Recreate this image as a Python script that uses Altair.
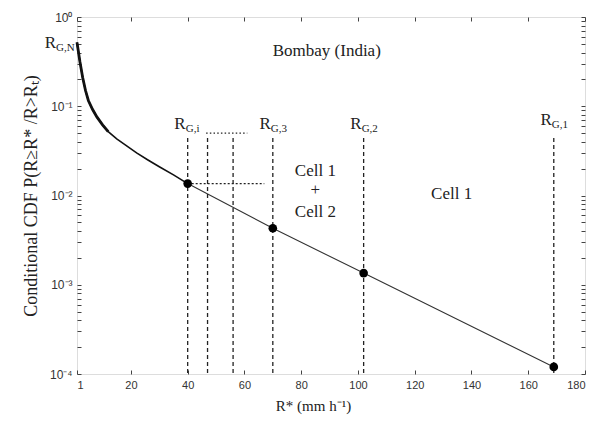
import altair as alt
import pandas as pd

# ---- data ----
curve_x = [1, 1.3, 2, 3, 4, 5, 6.5, 8, 10, 12, 15, 18, 22, 26, 30, 35, 40]
curve_y = [0.52, 0.45, 0.32, 0.21, 0.15, 0.116, 0.092, 0.076, 0.062, 0.052,
           0.043, 0.037, 0.030, 0.025, 0.021, 0.017, 0.0136]
tail_x = [40, 70, 102, 169]
tail_y = [0.0136, 0.0043, 0.00135, 0.00012]
dot_x = [40, 70, 102, 169]
dot_y = [0.0136, 0.0043, 0.00135, 0.00012]
vline_x = [40, 47, 56, 70, 102, 169]
vline_top = 0.044
ybottom = 1e-4
hdot_x = [40, 67]
hdot_y = 0.0136
gap_x = [46.5, 61]
gap_y = 0.050

lab_x = [40, 70, 102, 169]
lab_y = [0.055, 0.055, 0.055, 0.061]
lab_sub = ["G,i", "G,3", "G,2", "G,1"]
rn_x, rn_y, rn_sub = 1, 0.45, "G,N"

notes_text = ["Bombay (India)", "Cell 1", "+", "Cell 2", "Cell 1"]
notes_x = [89, 85, 85, 85, 133]
notes_y = [0.42, 0.0189, 0.0115, 0.0066, 0.0103]

x_ticks = [1, 20, 40, 60, 80, 100, 120, 140, 160, 180]
y_ticks = [1.0] + [k * 10.0 ** e for e in (-1, -2, -3, -4) for k in range(1, 10)]
y_ticks = sorted(set(round(v, 10) for v in y_ticks if v >= 1e-4))

SERIF = "Liberation Serif"
SANS = "Liberation Sans"

xs = alt.Scale(domain=[1, 180], nice=False, zero=False)
ys = alt.Scale(type="log", domain=[1e-4, 1], nice=False)

sup = {0: "10\u2070", -1: "10\u207b\u00b9", -2: "10\u207b\u00b2",
       -3: "10\u207b\u00b3", -4: "10\u207b\u2074"}
expr = "''"
for e, s in sup.items():
    expr = f"(abs(log(datum.value)/LN10-({e}))<0.001) ? '{s}' : " + expr
ylab_expr = expr

curve_df = pd.DataFrame({"x": curve_x, "y": curve_y})
tail_df = pd.DataFrame({"x": tail_x, "y": tail_y})
dot_df = pd.DataFrame({"x": dot_x, "y": dot_y})

# main line with left / bottom axes (inward ticks via negative offset)
axis_x_main = alt.Axis(values=x_ticks, offset=-4, tickSize=4, domain=False, grid=False,
                       labelFont=SANS, labelFontSize=11, labelColor="#333", labelPadding=5,
                       tickColor="#444", title="R* (mm h\u207b\u00b9)", titleFont=SERIF,
                       titleFontSize=15, titleFontWeight="normal", titleColor="#222",
                       titlePadding=8, titleX=236)
axis_y_main = alt.Axis(values=y_ticks, offset=-4, tickSize=4, domain=False, grid=False,
                       labelExpr=ylab_expr, labelFont=SANS, labelFontSize=12,
                       labelColor="#333", labelPadding=5, tickColor="#444",
                       title="Conditional CDF P(R\u2265R* /R>R\u209c)", titleFont=SERIF,
                       titleFontSize=18, titleFontWeight="normal", titleColor="#222",
                       titlePadding=9)
axis_x_top = alt.Axis(values=x_ticks, orient="top", offset=-4, tickSize=4, domain=False,
                      grid=False, labels=False, title=None, tickColor="#444")
axis_y_right = alt.Axis(values=y_ticks, orient="right", offset=-4, tickSize=4, domain=False,
                        grid=False, labels=False, title=None, tickColor="#444")

curve_thin = alt.Chart(curve_df).mark_line(color="#111", strokeWidth=1.6).encode(
    x=alt.X("x:Q", scale=xs, axis=axis_x_main),
    y=alt.Y("y:Q", scale=ys, axis=axis_y_main),
)
curve_thick = alt.Chart(curve_df).transform_filter("datum.x <= 12").mark_line(
    color="#111", strokeWidth=2.8).encode(
    x=alt.X("x:Q", scale=xs, axis=axis_x_top),
    y=alt.Y("y:Q", scale=ys, axis=axis_y_right),
)
tail = alt.Chart(tail_df).mark_line(color="#333", strokeWidth=1.1).encode(
    x=alt.X("x:Q", scale=xs, axis=None), y=alt.Y("y:Q", scale=ys, axis=None))
dots = alt.Chart(dot_df).mark_circle(color="#000", size=75, opacity=1).encode(
    x=alt.X("x:Q", scale=xs, axis=None), y=alt.Y("y:Q", scale=ys, axis=None))

vl_df = pd.DataFrame({"x": vline_x, "y": [vline_top] * len(vline_x), "y2": [ybottom] * len(vline_x)})
vlines = alt.Chart(vl_df).mark_rule(color="#222", strokeWidth=1.3, strokeDash=[4, 3]).encode(
    x=alt.X("x:Q", scale=xs, axis=None), y=alt.Y("y:Q", scale=ys, axis=None), y2="y2:Q")

hd_df = pd.DataFrame({"x": [hdot_x[0]], "x2": [hdot_x[1]], "y": [hdot_y]})
hdot = alt.Chart(hd_df).mark_rule(color="#222", strokeWidth=1.3, strokeDash=[2, 2]).encode(
    x=alt.X("x:Q", scale=xs, axis=None), x2="x2:Q", y=alt.Y("y:Q", scale=ys, axis=None))
gd_df = pd.DataFrame({"x": [gap_x[0]], "x2": [gap_x[1]], "y": [gap_y]})
gdot = alt.Chart(gd_df).mark_rule(color="#222", strokeWidth=1.4, strokeDash=[1.5, 2.2]).encode(
    x=alt.X("x:Q", scale=xs, axis=None), x2="x2:Q", y=alt.Y("y:Q", scale=ys, axis=None))

lab_df = pd.DataFrame({"x": lab_x, "y": lab_y, "r": ["R"] * len(lab_x), "s": lab_sub})
lab_r = alt.Chart(lab_df).mark_text(font=SERIF, fontSize=17, align="right", baseline="alphabetic",
                                    dx=-2, color="#222").encode(
    x=alt.X("x:Q", scale=xs, axis=None), y=alt.Y("y:Q", scale=ys, axis=None), text="r:N")
lab_s = alt.Chart(lab_df).mark_text(font=SERIF, fontSize=11, align="left", baseline="alphabetic",
                                    dx=-2, dy=3, color="#222").encode(
    x=alt.X("x:Q", scale=xs, axis=None), y=alt.Y("y:Q", scale=ys, axis=None), text="s:N")

rn_df = pd.DataFrame({"x": [rn_x], "y": [rn_y], "r": ["R"], "s": [rn_sub]})
rn_r = alt.Chart(rn_df).mark_text(font=SERIF, fontSize=17, align="right", baseline="alphabetic",
                                  dx=-21, color="#222").encode(
    x=alt.X("x:Q", scale=xs, axis=None), y=alt.Y("y:Q", scale=ys, axis=None), text="r:N")
rn_s = alt.Chart(rn_df).mark_text(font=SERIF, fontSize=11, align="left", baseline="alphabetic",
                                  dx=-21, dy=3, color="#222").encode(
    x=alt.X("x:Q", scale=xs, axis=None), y=alt.Y("y:Q", scale=ys, axis=None), text="s:N")

notes_df = pd.DataFrame({"x": notes_x, "y": notes_y, "t": notes_text})
notes = alt.Chart(notes_df).mark_text(font=SERIF, fontSize=17, align="center", baseline="middle",
                                      color="#222").encode(
    x=alt.X("x:Q", scale=xs, axis=None), y=alt.Y("y:Q", scale=ys, axis=None), text="t:N")

chart = alt.layer(
    curve_thin, curve_thick, tail, vlines, hdot, gdot, dots, lab_r, lab_s, rn_r, rn_s, notes
).resolve_axis(x="independent", y="independent").properties(
    width=508, height=357,
    autosize=alt.AutoSizeParams(type="none"),
    padding={"left": 69, "top": 9, "right": 20, "bottom": 44},
).configure_view(stroke="#444", strokeWidth=1).configure(background="white")

chart.save("out.html", embed_options={"renderer": "svg", "actions": False})
